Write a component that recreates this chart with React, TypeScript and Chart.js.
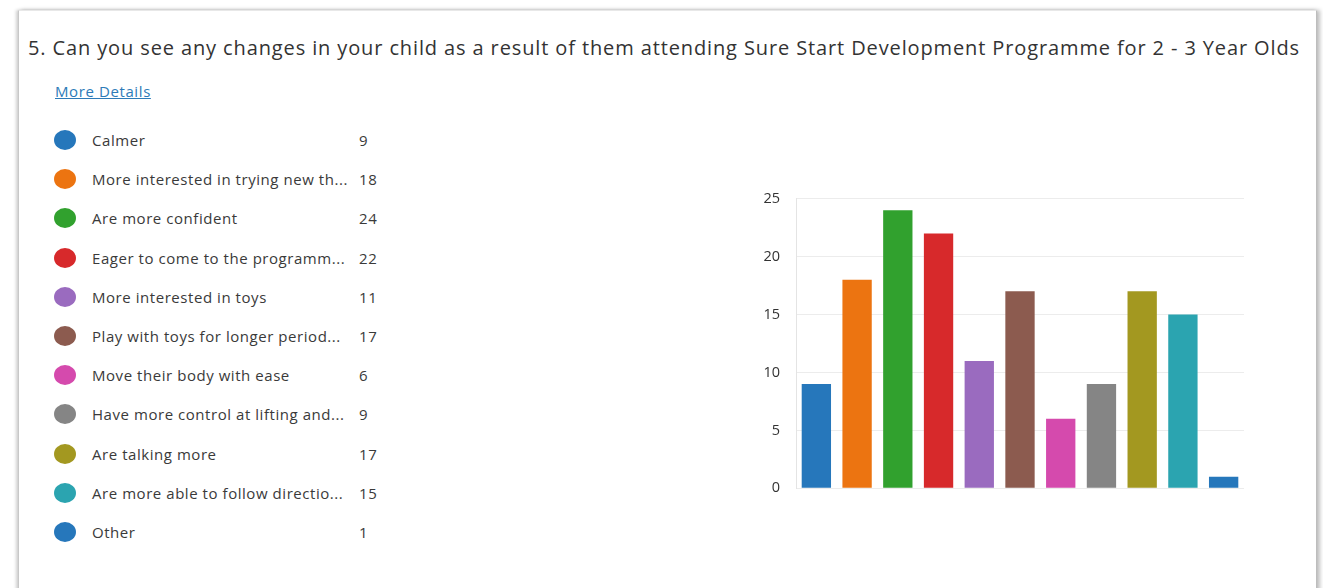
import React, { useEffect, useRef } from "react";
import { Chart, registerables } from "chart.js";

Chart.register(...registerables);

const TITLE = "5.  Can you see any changes in your child as a result of them attending Sure Start Development Programme for 2 - 3 Year Olds";
const categories = [
  "Calmer",
  "More interested in trying new th...",
  "Are more confident",
  "Eager to come to the programm...",
  "More interested in toys",
  "Play with toys for longer period...",
  "Move their body with ease",
  "Have more control at lifting and...",
  "Are talking more",
  "Are more able to follow directio...",
  "Other",
];
const counts = [9, 18, 24, 22, 11, 17, 6, 9, 17, 15, 1];
const colors = [
  "#2677bb", "#ec7411", "#31a12e", "#d7292b", "#9a6bbf", "#8c5b4f",
  "#d54aad", "#858585", "#a39820", "#2ba4b0", "#2677bb",
];
const yTicks = [0, 5, 10, 15, 20, 25];

const FONT = "'Open Sans', 'Noto Sans', sans-serif";

export default function App() {
  const ref = useRef<HTMLCanvasElement | null>(null);
  useEffect(() => {
    if (!ref.current) return;
    const chart = new Chart(ref.current, {
      type: "bar",
      data: {
        labels: categories,
        datasets: [
          {
            data: counts,
            backgroundColor: colors,
            borderWidth: 0,
            barPercentage: 0.72,
            categoryPercentage: 1,
          },
        ],
      },
      options: {
        animation: false,
        responsive: false,
        maintainAspectRatio: false,
        layout: { padding: { top: 2, right: 11, bottom: 1, left: 0 } },
        plugins: { legend: { display: false }, tooltip: { enabled: false } },
        scales: {
          x: { display: false },
          y: {
            min: 0,
            max: 25,
            afterFit: (s: any) => { s.width = 56; },
            afterBuildTicks: (s: any) => { s.ticks = yTicks.map((v) => ({ value: v })); },
            grid: { color: "#ececec", drawTicks: false, lineWidth: 1 },
            border: { display: true, color: "#e4e4e4" },
            ticks: {
              color: "#333333",
              padding: 16,
              font: { family: FONT, size: 14.5 },
            },
          },
        },
      },
    });
    return () => chart.destroy();
  }, []);

  return (
    <div style={{ position: "absolute", left: 0, top: 0, width: 1323, height: 588, background: "#ffffff", overflow: "hidden", fontFamily: FONT }}>
      <div
        style={{
          position: "absolute",
          left: 18,
          top: 10,
          width: 1297,
          height: 600,
          background: "#ffffff",
          borderLeft: "1px solid #c8c8c8",
          borderTop: "1px solid #e8e8e8",
          borderRight: "1px solid #bdbdbd",
          boxShadow: "-2px 0 3px rgba(0,0,0,0.18), 3px 0 4px rgba(0,0,0,0.25)",
        }}
      />
      <div style={{ position: "absolute", left: 28, top: 34, fontSize: 20, color: "#333333", whiteSpace: "nowrap", letterSpacing: 0.88 }}>
        {TITLE}
      </div>
      <div style={{ position: "absolute", left: 55, top: 81, fontSize: 15, color: "#2d7bb8", textDecoration: "underline", letterSpacing: 0.6 }}>
        More Details
      </div>
      {categories.map((c, i) => (
        <div key={i} style={{ position: "absolute", left: 54, top: 130 + i * 39.2, height: 21, width: 340, fontSize: 15, color: "#3a3a3a", letterSpacing: 0.55 }}>
          <div style={{ position: "absolute", left: 0, top: 0, width: 22, height: 20, borderRadius: "50%", background: colors[i] }} />
          <div style={{ position: "absolute", left: 38, top: 0, lineHeight: "20px", whiteSpace: "nowrap" }}>{c}</div>
          <div style={{ position: "absolute", left: 305, top: 0, lineHeight: "20px" }}>{counts[i]}</div>
        </div>
      ))}
      <canvas ref={ref} width={515} height={339} style={{ position: "absolute", left: 740, top: 174, width: 515, height: 339 }} />
    </div>
  );
}
